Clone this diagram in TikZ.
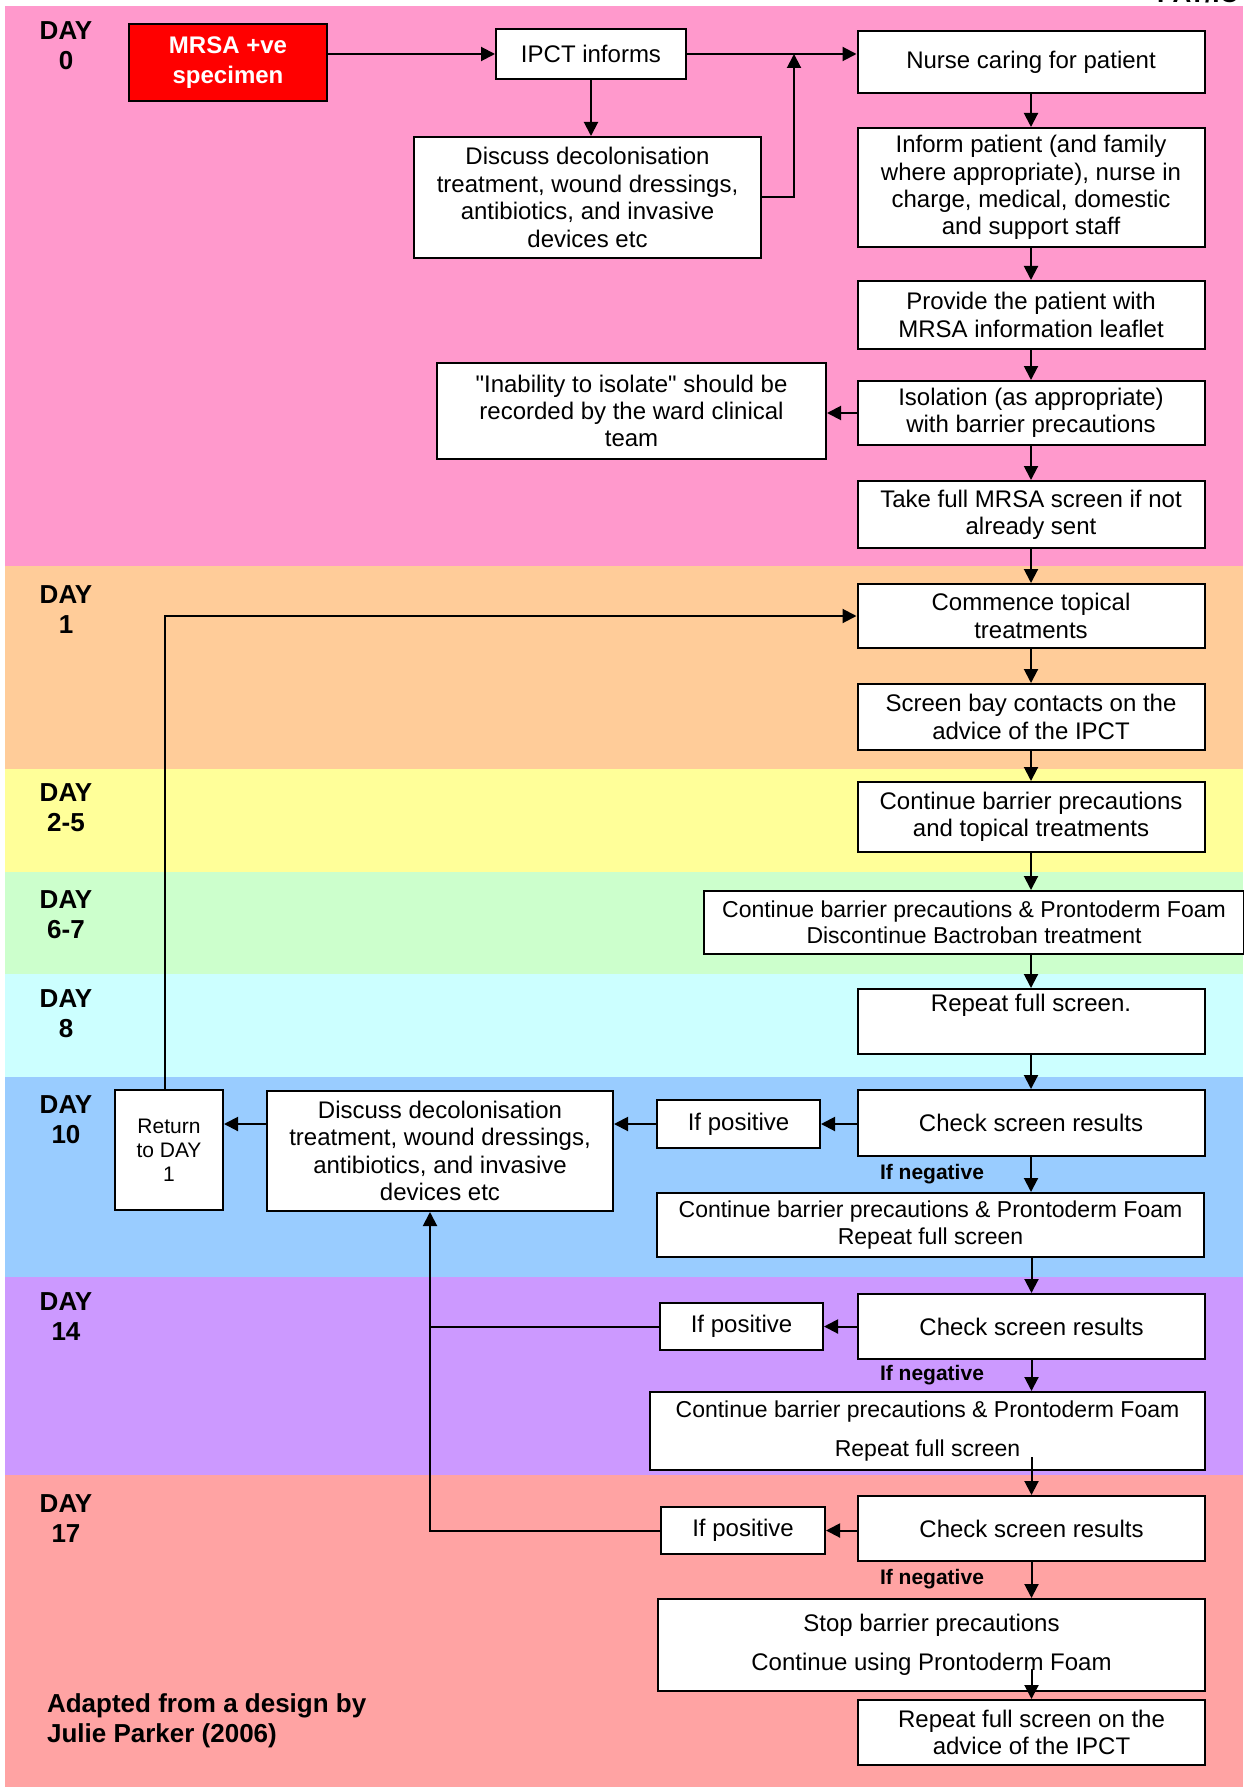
\documentclass[tikz,border=0pt]{standalone}
\usepackage{fontspec}
\setmainfont{Liberation Sans}[Ligatures=TeXOff]
\usetikzlibrary{arrows.meta}

\definecolor{dpink}{HTML}{FF99CC}
\definecolor{dorange}{HTML}{FFCC99}
\definecolor{dyellow}{HTML}{FFFF99}
\definecolor{dgreen}{HTML}{CCFFCC}
\definecolor{dcyan}{HTML}{CCFFFF}
\definecolor{dblue}{HTML}{99CCFF}
\definecolor{dpurple}{HTML}{CC99FF}
\definecolor{dsalmon}{HTML}{FFA3A3}

\tikzset{
  box/.style={draw, line width=1pt, fill=white, inner sep=0pt, align=center,
    font=\fontsize{12}{13.7}\selectfont},
  arr/.style={line width=1pt, -{Triangle[length=7pt,width=7pt]}},
  lnk/.style={line width=1pt},
  daylbl/.style={font=\fontsize{13}{15}\selectfont\bfseries, align=center},
  neglbl/.style={font=\fontsize{10.5}{12}\selectfont\bfseries},
}

\begin{document}
\begin{tikzpicture}[x=0.5pt,y=-0.5pt]
  \useasboundingbox (0,0) rectangle (1243,1787);
  \fill[white] (0,0) rectangle (1243,1787);
  \node[daylbl, anchor=base west] (pageref) at (1150,3) {PAT/IC};
  % bandas dos dias
  \foreach \ya/\yb/\cor in {6/566/dpink, 566/769/dorange, 769/872/dyellow,
      872/974/dgreen, 974/1077/dcyan, 1077/1277/dblue, 1277/1475/dpurple,
      1475/1787/dsalmon}
    \fill[\cor] (5,\ya) rectangle (1243,\yb);
  % rotulos dos dias
  \node[daylbl] (d0) at (66,46) {DAY\\0};
  \node[daylbl] (d1) at (66,610) {DAY\\1};
  \node[daylbl] (d25) at (66,808) {DAY\\2-5};
  \node[daylbl] (d67) at (66,915) {DAY\\6-7};
  \node[daylbl] (d8) at (66,1014) {DAY\\8};
  \node[daylbl] (d10) at (66,1120) {DAY\\10};
  \node[daylbl] (d14) at (66,1317) {DAY\\14};
  \node[daylbl] (d17) at (66,1519) {DAY\\17};
  \node[daylbl, align=left, anchor=west] (credit) at (40,1721)
    {Adapted from a design by\\Julie Parker (2006)};
  % dia 0
  \node[box, fill=red, text=white, font=\fontsize{12}{15}\selectfont\bfseries,
    minimum width=99pt, minimum height=38.5pt] (mrsa) at (228,62.5) {MRSA +ve\\specimen};
  \node[box, minimum width=95pt, minimum height=25pt] (ipct) at (591,54) {IPCT informs};
  \node[box, minimum width=173.5pt, minimum height=31pt] (nurse) at (1031,62) {Nurse caring for patient};
  \node[box, minimum width=173.5pt, minimum height=60.5pt] (discA) at (587.5,197.5)
    {Discuss decolonisation\\treatment, wound dressings,\\antibiotics, and invasive\\devices etc};
  \node[box, minimum width=173.5pt, minimum height=59.5pt] (inform) at (1031,187.5)
    {Inform patient (and family\\where appropriate), nurse in\\charge, medical, domestic\\and support staff};
  \node[box, minimum width=173.5pt, minimum height=34pt] (provide) at (1031,315)
    {Provide the patient with\\MRSA information leaflet};
  \node[box, minimum width=173.5pt, minimum height=32pt] (isol) at (1031,413)
    {Isolation (as appropriate)\\with barrier precautions};
  \node[box, minimum width=194.5pt, minimum height=48pt] (unable) at (631.5,411)
    {"Inability to isolate" should be\\recorded by the ward clinical\\team};
  \node[box, minimum width=173.5pt, minimum height=33.5pt] (takefull) at (1031,514.5)
    {Take full MRSA screen if not\\already sent};
  % dias 1 a 8
  \node[box, minimum width=173.5pt, minimum height=32pt] (commence) at (1031,616)
    {Commence topical\\treatments};
  \node[box, minimum width=173.5pt, minimum height=33pt] (screenbay) at (1031,717)
    {Screen bay contacts on the\\advice of the IPCT};
  \node[box, minimum width=173.5pt, minimum height=35pt] (contA) at (1031,817)
    {Continue barrier precautions\\and topical treatments};
  \node[box, minimum width=270pt, minimum height=31.5pt, font=\fontsize{11.5}{12.8}\selectfont]
    (contB) at (974,922.5)
    {Continue barrier precautions \& Prontoderm Foam\\Discontinue Bactroban treatment};
  \node[box, minimum width=173.5pt, minimum height=32.5pt] (repeat8) at (1031,1021.5)
    {Repeat full screen.\\[1pt]\strut};
  % dia 10
  \node[box, minimum width=173.5pt, minimum height=33pt] (check10) at (1031,1123) {Check screen results};
  \node[box, minimum width=81.5pt, minimum height=24pt] (pos10) at (738.5,1124) {If positive};
  \node[box, minimum width=173pt, minimum height=60pt] (discB) at (440,1151)
    {Discuss decolonisation\\treatment, wound dressings,\\antibiotics, and invasive\\devices etc};
  \node[box, minimum width=54pt, minimum height=60pt, font=\fontsize{10.5}{12}\selectfont]
    (ret) at (169,1150) {Return\\to DAY\\1};
  \node[neglbl] (neg10) at (932,1174) {If negative};
  \node[box, minimum width=273.5pt, minimum height=32pt, font=\fontsize{11.5}{13.2}\selectfont]
    (cont10) at (930.5,1225)
    {Continue barrier precautions \& Prontoderm Foam\\Repeat full screen};
  % dia 14
  \node[box, minimum width=173.5pt, minimum height=32.5pt] (check14) at (1031.5,1326.5) {Check screen results};
  \node[box, minimum width=81.5pt, minimum height=23.5pt] (pos14) at (741.5,1326.5) {If positive};
  \node[neglbl] (neg14) at (932,1375) {If negative};
  \node[box, minimum width=277.5pt, minimum height=39pt, font=\fontsize{11.5}{13.2}\selectfont]
    (cont14) at (927.5,1431)
    {Continue barrier precautions \& Prontoderm Foam\\[6pt]Repeat full screen};
  % dia 17
  \node[box, minimum width=173.5pt, minimum height=32.5pt] (check17) at (1031.5,1528.5) {Check screen results};
  \node[box, minimum width=82pt, minimum height=23.5pt] (pos17) at (743,1530.5) {If positive};
  \node[neglbl] (neg17) at (932,1579) {If negative};
  \node[box, minimum width=273.5pt, minimum height=46pt] (stop) at (931.5,1645)
    {Stop barrier precautions\\[6pt]Continue using Prontoderm Foam};
  \node[box, minimum width=173.5pt, minimum height=32.5pt] (rep17) at (1031.5,1732.5)
    {Repeat full screen on the\\advice of the IPCT};
  % setas do dia 0
  \coordinate (joinA) at (794,54);
  \draw[arr] (mrsa.east |- ipct.west) -- (ipct.west);
  \draw[arr] (ipct.east) -- (ipct.east -| nurse.west);
  \draw[arr] (ipct.south) -- (ipct.south |- discA.north);
  \draw[arr] (discA.east) -| (joinA);
  \draw[arr] (nurse) -- (inform);
  \draw[arr] (inform) -- (provide);
  \draw[arr] (provide) -- (isol);
  \draw[arr] (isol.west) -- (isol.west -| unable.east);
  \draw[arr] (isol) -- (takefull);
  % coluna da direita
  \draw[arr] (takefull) -- (commence);
  \draw[arr] (commence) -- (screenbay);
  \draw[arr] (screenbay) -- (contA);
  \draw[arr] (contA.south) -- (contA.south |- contB.north);
  \draw[arr] (repeat8.north |- contB.south) -- (repeat8.north);
  \draw[arr] (repeat8) -- (check10);
  \draw[arr] (check10.south) -- (check10.south |- cont10.north);
  \draw[arr] (check14.north |- cont10.south) -- (check14.north);
  \draw[arr] (check14.south) -- (check14.south |- cont14.north);
  \draw[arr] ([yshift=19pt]check17.north) -- (check17.north);
  \draw[arr] (check17.south) -- (check17.south |- stop.north);
  \draw[arr] ([yshift=15pt]rep17.north) -- (rep17.north);
  % ramos positivos
  \draw[arr] (check10.west |- pos10.east) -- (pos10.east);
  \draw[arr] (pos10.west) -- (pos10.west -| discB.east);
  \draw[arr] (discB.west |- pos10.west) -- (ret.east |- pos10.west);
  \draw[arr] ([xshift=-2pt]ret.north) |- (commence.west);
  \draw[arr] (check14.west) -- (check14.west -| pos14.east);
  \draw[arr] (check17.west |- pos17.east) -- (pos17.east);
  \draw[lnk] (pos14.west) -- ([xshift=-5pt]discB.south |- pos14.west);
  \draw[arr] (pos17.west) -| ([xshift=-5pt]discB.south);
\end{tikzpicture}
\end{document}
